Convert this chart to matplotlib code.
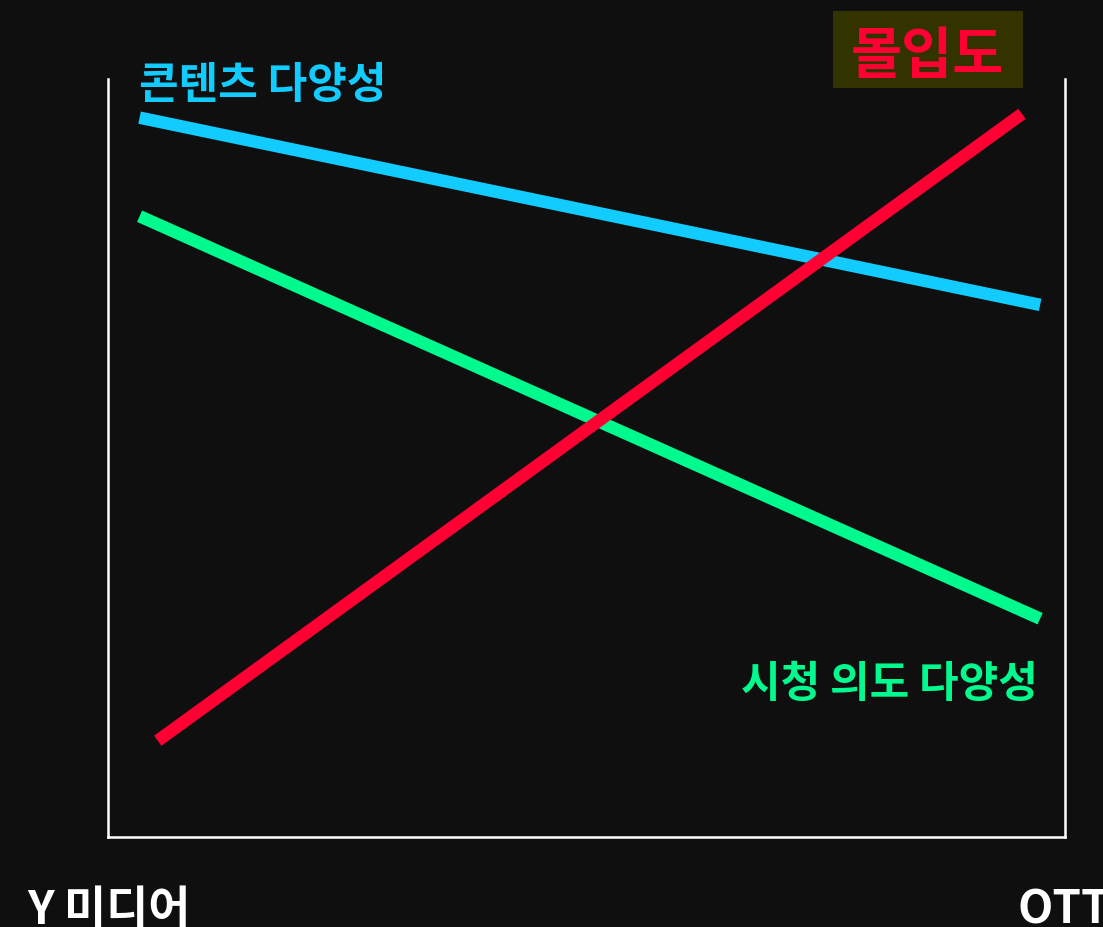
import matplotlib
matplotlib.use("Agg")
import matplotlib.pyplot as plt
from matplotlib.patches import Rectangle

plt.rcParams['font.family'] = ['Noto Sans CJK KR', 'DejaVu Sans']

# Data (x: fraction of the axis from left; y: 0-100 scale)
series_names = ["콘텐츠 다양성", "시청 의도 다양성", "몰입도"]
cyan_x = [0.033, 0.974]
cyan_y = [94.9, 70.2]
green_x = [0.033, 0.974]
green_y = [81.9, 28.8]
red_x = [0.052, 0.955]
red_y = [12.7, 95.4]
x_labels = ["Y 미디어", "OTT"]

W, H = 1103, 928
fig = plt.figure(figsize=(W / 100, H / 100), dpi=100)
bg = "#0f0f0f"
fig.patch.set_facecolor(bg)

left, right, bottom, top = 108, 1065, 838, 80
ax = fig.add_axes([left / W, 1 - bottom / H, (right - left) / W, (bottom - top) / H])
ax.set_facecolor(bg)
ax.set_xlim(0, 1)
ax.set_ylim(0, 100)
for s in ["left", "bottom", "right"]:
    ax.spines[s].set_color("white")
    ax.spines[s].set_linewidth(1.8)
ax.spines["top"].set_visible(False)
ax.set_xticks([])
ax.set_yticks([])

lw = 9
ax.plot(cyan_x, cyan_y, color="#12CCFF", lw=lw, solid_capstyle="butt")
ax.plot(green_x, green_y, color="#00FA8E", lw=lw, solid_capstyle="butt")
ax.plot(red_x, red_y, color="#FF0033", lw=lw, solid_capstyle="butt", zorder=3)

# series labels
fig.text(139 / W, 1 - 98 / H, series_names[0], color="#12CCFF", fontsize=31,
         fontweight="heavy", ha="left", va="baseline")
fig.text(1038 / W, 1 - 697 / H, series_names[1], color="#00FA8E", fontsize=31,
         fontweight="heavy", ha="right", va="baseline")
fig.patches.append(Rectangle((833 / W, 1 - 89 / H), 190 / W, 77 / H,
                             transform=fig.transFigure, fc="#333300", ec="none",
                             zorder=1))
fig.text(927 / W, 1 - 73 / H, series_names[2], color="#FF0033", fontsize=40,
         fontweight="heavy", ha="center", va="baseline", zorder=2)

# x labels
fig.text(27 / W, 1 - 924 / H, x_labels[0], color="white", fontsize=33,
         fontweight="heavy", ha="left", va="baseline")
fig.text(1017 / W, 1 - 924 / H, x_labels[1], color="white", fontsize=33,
         fontweight="heavy", ha="left", va="baseline")

fig.savefig("out.png", dpi=100, facecolor=bg)
